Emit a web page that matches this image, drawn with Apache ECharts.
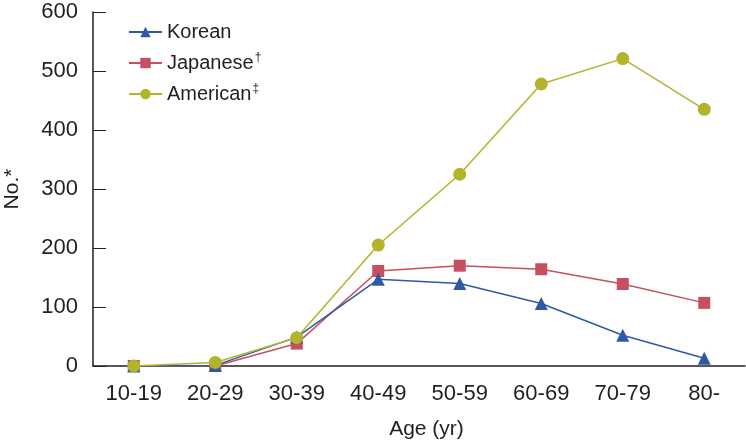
<!DOCTYPE html>
<html><head><meta charset="utf-8">
<script src="https://cdn.jsdelivr.net/npm/echarts@6/dist/echarts.min.js"></script>
<style>html,body{margin:0;padding:0;background:#fff}#c{width:746px;height:445px}</style>
</head><body><div id="c"></div>
<script>
const categories = ['10-19','20-29','30-39','40-49','50-59','60-69','70-79','80-'];
const korean   = [0, 1, 49, 147, 140, 106, 52, 13];
const japanese = [0, 0, 38, 161, 170, 164, 139, 107];
const american = [0, 6, 48, 205, 325, 478, 521, 435];
const yTicks = [0, 100, 200, 300, 400, 500, 600];
const seriesNames = ['Korean', 'Japanese', 'American'];
const sups = {'Korean': '', 'Japanese': '†', 'American': '‡'};

const FONT = '"Liberation Sans", Arial, sans-serif';
const INK = '#231f20';
const chart = echarts.init(document.getElementById('c'));
chart.setOption({
  animation: false,
  textStyle: {fontFamily: FONT},
  grid: {left: 93, right: 1, top: 12, bottom: 79, containLabel: false, outerBoundsMode: 'none'},
  legend: {
    orient: 'vertical', left: 123, top: 17, itemGap: 10,
    itemWidth: 33, itemHeight: 13,
    data: seriesNames,
    formatter: n => sups[n] ? n + '{s|' + sups[n] + '}' : n,
    textStyle: {fontFamily: FONT, fontSize: 20, color: INK,
      rich: {s: {fontFamily: FONT, fontSize: 12, color: INK, padding: [0,0,10,1]}}}
  },
  xAxis: {
    type: 'category', data: categories, boundaryGap: true,
    name: 'Age (yr)', nameLocation: 'middle', nameGap: 53,
    nameTextStyle: {fontFamily: FONT, fontSize: 21, color: INK, padding: [0,0,0,15]},
    axisLine: {lineStyle: {color: INK, width: 1.5}},
    axisTick: {inside: true, length: 14, lineStyle: {color: INK, width: 1}},
    axisLabel: {fontFamily: FONT, fontSize: 22, color: INK, margin: 17}
  },
  yAxis: {
    type: 'value', min: yTicks[0], max: yTicks[yTicks.length-1], interval: 100,
    name: 'No.*', nameLocation: 'middle', nameGap: 70, nameRotate: 90,
    nameTextStyle: {fontFamily: FONT, fontSize: 21, color: INK},
    axisLine: {show: true, lineStyle: {color: INK, width: 1.5}},
    axisTick: {show: true, inside: true, length: 13, lineStyle: {color: INK, width: 1}},
    axisLabel: {fontFamily: FONT, fontSize: 22, color: INK, margin: 15},
    splitLine: {show: false}
  },
  series: [
    {name: 'Korean', type: 'line', data: korean, symbol: 'triangle', symbolSize: 13,
     itemStyle: {color: '#2e5aa5'}, lineStyle: {color: '#2e5aa5', width: 1.5}, z: 3},
    {name: 'Japanese', type: 'line', data: japanese, symbol: 'rect', symbolSize: 12,
     itemStyle: {color: '#c5505f'}, lineStyle: {color: '#c5505f', width: 1.5}, z: 2},
    {name: 'American', type: 'line', data: american, symbol: 'circle', symbolSize: 13,
     itemStyle: {color: '#b3b42c'}, lineStyle: {color: '#b3b42c', width: 1.5}, z: 4}
  ]
});
</script></body></html>
